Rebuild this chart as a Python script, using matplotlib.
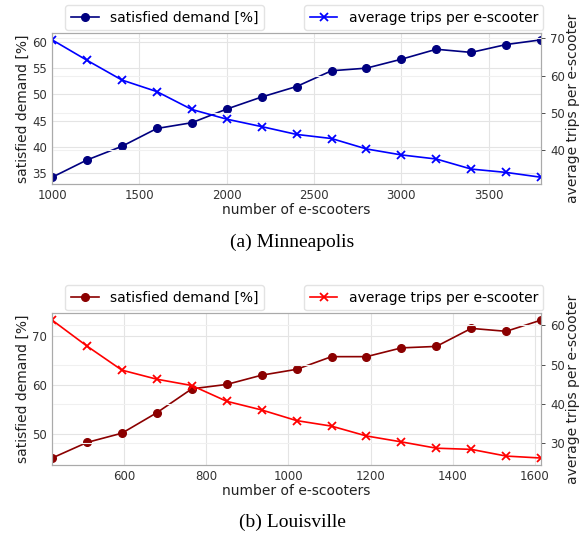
import matplotlib.pyplot as plt

# Minneapolis
mpls_n = [1000, 1200, 1400, 1600, 1800, 2000, 2200, 2400, 2600, 2800, 3000, 3200, 3400, 3600, 3800]
mpls_demand = [34.2, 37.5, 40.1, 43.5, 44.6, 47.2, 49.5, 51.5, 54.5, 55.0, 56.7, 58.6, 58.0, 59.5, 60.4]
mpls_trips = [69.6, 64.1, 58.8, 55.7, 50.9, 48.3, 46.3, 44.2, 43.1, 40.3, 38.7, 37.6, 34.9, 34.0, 32.7]

# Louisville
lou_n = [425, 510, 595, 680, 765, 850, 935, 1020, 1105, 1190, 1275, 1360, 1445, 1530, 1615]
lou_demand = [45.0, 48.2, 50.1, 54.3, 59.2, 60.1, 62.0, 63.2, 65.8, 65.8, 67.6, 67.9, 71.6, 71.0, 73.3]
lou_trips = [61.3, 54.7, 48.6, 46.3, 44.7, 40.7, 38.5, 35.8, 34.4, 31.9, 30.4, 28.8, 28.5, 26.8, 26.3]

plt.rcParams['font.family'] = 'DejaVu Sans'
fs = 10
tfs = 8.5

fig = plt.figure(figsize=(5.85, 5.4), dpi=100)


def panel(rect, x, left, right, c1, c2, xticks, caption, cap_y):
    ax = fig.add_axes(rect)
    ax2 = ax.twinx()
    l1, = ax.plot(x, left, color=c1, marker='o', markersize=5.5, lw=1.2,
                  label='satisfied demand [%]')
    l2, = ax2.plot(x, right, color=c2, marker='x', markersize=5.5, mew=1.3, lw=1.2,
                   label='average trips per e-scooter')
    ax.set_xlim(x[0], x[-1])
    ax.set_xticks(xticks)
    ax.grid(True, color='#e4e4e4', lw=0.8)
    ax2.grid(True, color='#f0f0f0', lw=0.8)
    ax.set_axisbelow(True)
    for a in (ax, ax2):
        for s in a.spines.values():
            s.set_color('#aaaaaa')
            s.set_linewidth(0.8)
        a.tick_params(labelsize=tfs, colors='#333333', length=3, width=0.6)
    ax.tick_params(axis='both', length=0)
    ax.set_xlabel('number of e-scooters', fontsize=fs, color='#222222', labelpad=1)
    ax.set_ylabel('satisfied demand [%]', fontsize=fs, color='#222222', labelpad=2)
    ax2.set_ylabel('average trips per e-scooter', fontsize=fs, color='#222222', labelpad=0.5)
    ax.legend(handles=[l1], loc='lower center', bbox_to_anchor=(0.23, 1.0),
              fontsize=fs, frameon=True, edgecolor='#dddddd', borderaxespad=0.2)
    ax2.legend(handles=[l2], loc='lower center', bbox_to_anchor=(0.76, 1.0),
               fontsize=fs, frameon=True, edgecolor='#dddddd', borderaxespad=0.2)
    fig.text(0.5, cap_y, caption, ha='center', va='center',
             fontsize=14, family='Liberation Serif')


panel([0.089, 0.659, 0.836, 0.28], mpls_n, mpls_demand, mpls_trips,
      'navy', 'blue', [1000, 1500, 2000, 2500, 3000, 3500], '(a) Minneapolis', 0.552)
panel([0.089, 0.139, 0.836, 0.281], lou_n, lou_demand, lou_trips,
      'darkred', 'red', [600, 800, 1000, 1200, 1400, 1600], '(b) Louisville', 0.033)

fig.savefig('out.png', dpi=100)
